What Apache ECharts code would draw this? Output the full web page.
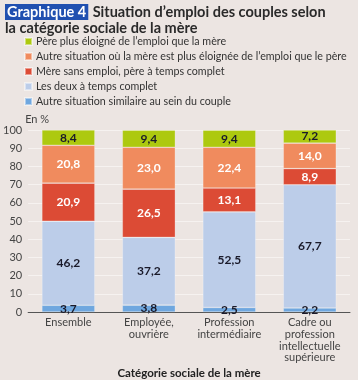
<!DOCTYPE html>
<html><head><meta charset="utf-8">
<script src="https://cdn.jsdelivr.net/npm/echarts@6/dist/echarts.min.js"></script>
<style>html,body{margin:0;padding:0;background:#ece5e2;}#c{width:358px;height:380px;}</style>
</head><body><div id="c"></div>
<script>
var categories = ['Ensemble', 'Employée,\nouvrière', 'Profession\nintermédiaire', 'Cadre ou\nprofession\nintellectuelle\nsupérieure'];
var seriesNames = ['Autre situation similaire au sein du couple', 'Les deux à temps complet', 'Mère sans emploi, père à temps complet', 'Autre situation où la mère est plus éloignée de l’emploi que le père', 'Père plus éloigné de l’emploi que la mère'];
var autreSimilaire = [3.7, 3.8, 2.5, 2.2];
var deuxTempsComplet = [46.2, 37.2, 52.5, 67.7];
var mereSansEmploi = [20.9, 26.5, 13.1, 8.9];
var autreMere = [20.8, 23.0, 22.4, 14.0];
var perePlusEloigne = [8.4, 9.4, 9.4, 7.2];
var yTicks = [0, 10, 20, 30, 40, 50, 60, 70, 80, 90, 100];

var colors = ['#6fa7df', '#bccde9', '#dc4b35', '#f08b5e', '#adc90f'];
var labelColors = ['#1a1a2a', '#1a1a2a', '#ffffff', '#ffffff', '#1a1a2a'];
var values = [autreSimilaire, deuxTempsComplet, mereSansEmploi, autreMere, perePlusEloigne];
var FONT = 'Lato';

var series = values.map(function (d, i) {
  return {
    name: seriesNames[i], type: 'bar', stack: 'all', data: d, barWidth: 53,
    itemStyle: { color: colors[i], borderColor: 'rgba(255,255,255,0.45)', borderWidth: 0.6 },
    label: { show: true, position: 'inside', color: labelColors[i], fontFamily: FONT, fontSize: 12, fontWeight: 'bold',
      formatter: function (p) { return p.value.toFixed(1).replace('.', ','); } },
    emphasis: { disabled: true }
  };
});

var chart = echarts.init(document.getElementById('c'));
chart.setOption({
  backgroundColor: '#ece5e2',
  animation: false,
  textStyle: { fontFamily: FONT },
  title: {
    left: 5, top: 3, padding: 0,
    text: '{box|Graphique 4} {t|Situation d’emploi des couples selon}\n{t|la catégorie sociale de la mère}',
    textStyle: {
      rich: {
        box: { backgroundColor: '#2050b0', color: '#fff', fontFamily: FONT, fontSize: 14.5, fontWeight: 'bold', padding: [1, 2, 0, 2], lineHeight: 17 },
        t: { color: '#2a2a2a', fontFamily: FONT, fontSize: 14.5, fontWeight: 'bold', lineHeight: 15 }
      }
    }
  },
  legend: {
    data: seriesNames.slice().reverse(),
    orient: 'vertical', left: 24, top: 35, padding: 0,
    itemWidth: 7, itemHeight: 7, itemGap: 2, icon: 'rect',
    selectedMode: false,
    textStyle: { fontFamily: FONT, fontSize: 10.7, color: '#333', lineHeight: 13, padding: [0, 0, 0, -1] }
  },
  grid: { left: 28, right: 8, top: 130, bottom: 68, containLabel: false },
  xAxis: {
    type: 'category', data: categories,
    name: 'Catégorie sociale de la mère', nameLocation: 'middle', nameGap: 55,
    nameTextStyle: { fontFamily: FONT, fontSize: 11.5, fontWeight: 'bold', color: '#222' },
    axisLine: { lineStyle: { color: '#555', width: 1 } },
    axisTick: { show: false },
    axisLabel: { interval: 0, fontFamily: FONT, fontSize: 11, color: '#444', lineHeight: 11.7, margin: 5 }
  },
  yAxis: {
    type: 'value', min: 0, max: 100, interval: 10,
    axisLabel: { fontFamily: FONT, fontSize: 11, color: '#444', margin: 6,
      formatter: function (v) { return yTicks.indexOf(v) >= 0 ? String(v) : ''; } },
    splitLine: { lineStyle: { color: '#f6f2f0', width: 1 } },
    axisLine: { show: false }, axisTick: { show: false },
    name: 'En %', nameLocation: 'end', nameGap: 5,
    nameTextStyle: { fontFamily: FONT, fontSize: 11, color: '#444', align: 'left', padding: [0, 0, 0, -3] }
  },
  series: series
});
</script></body></html>
